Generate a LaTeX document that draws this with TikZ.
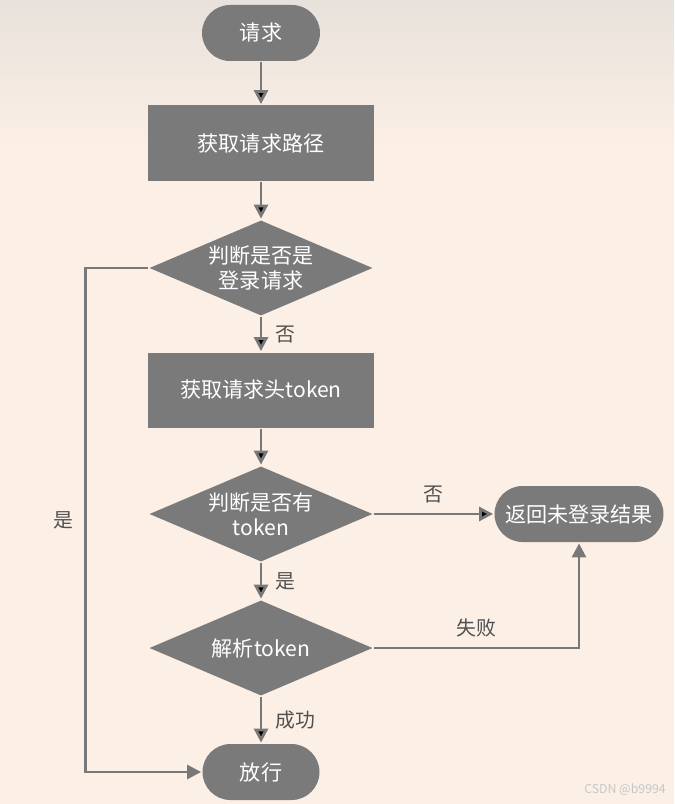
\documentclass[tikz,border=0pt]{standalone}
\usepackage{fontspec}
\setmainfont{Noto Sans CJK SC}
\usetikzlibrary{arrows.meta,positioning,shapes.geometric}
\definecolor{bgpeach}{HTML}{FCEFE5}
\definecolor{bgtop}{HTML}{E8E2DC}
\definecolor{boxgray}{HTML}{7A7A7A}
\definecolor{linegray}{HTML}{787878}
\definecolor{labelgray}{HTML}{505050}

\begin{document}
\begin{tikzpicture}[->,>={Triangle[width=8pt,length=8pt]},node distance=2.5cm,
                    line width=1.6pt, font=\fontsize{12}{15}\selectfont]
	  \tikzstyle{every node}=[text=white]
	  \tikzstyle{term}=[fill=boxgray,rounded corners=0.56cm,minimum height=1.12cm,inner sep=0pt]
	  \tikzstyle{proc}=[fill=boxgray,minimum width=4.52cm,minimum height=1.5cm,inner sep=0pt]
	  \tikzstyle{decide}=[diamond,fill=boxgray,aspect=2.33,minimum width=4.48cm,
	                      minimum height=1.92cm,inner sep=0pt,align=center,font=\fontsize{12}{14.5}\selectfont]
	  \tikzstyle{lbl}=[text=labelgray,font=\fontsize{11.3}{13}\selectfont]

	  % background
	  \useasboundingbox (0,0) rectangle (13.48,-16.08);
	  \fill[bgpeach] (0,0) rectangle (13.48,-16.08);
	  \shade[top color=bgtop,bottom color=bgpeach,draw=none] (0,0) rectangle (13.48,-3);

	  \node[term,minimum width=2.36cm] (req) at (5.22,-0.66) {请求};
	  \node[proc]   (path)  [below of=req,node distance=2.2cm]    {获取请求路径};
	  \node[decide] (login) [below of=path]                       {判断是否是\\登录请求};
	  \node[proc]   (token) [below of=login,node distance=2.44cm] {获取请求头token};
	  \node[decide] (has)   [below of=token,node distance=2.48cm] {判断是否有\\token};
	  \node[term,minimum width=3.38cm] (back) [right of=has,node distance=6.36cm] {返回未登录结果};
	  \node[decide] (parse) [below of=has,node distance=2.68cm]   {解析token};
	  \node[term,minimum width=2.34cm] (pass) [below of=parse,node distance=2.48cm] {放行};

	  \path[draw=linegray]
	  (req) edge (path)
	  (path) edge (login)
	  (login) edge node[lbl,right=4pt] {否} (token)
	  (token) edge (has)
	  (has) edge node[lbl,above=2pt] {否} (back)
	  (has) edge node[lbl,right=4pt] {是} (parse)
	  (parse) edge node[lbl,right=4pt] {成功} (pass);

	  \draw[draw=linegray] (login.west) -- ++(-1.24,0) |- node[lbl,pos=0.25,left=3pt] {是} (pass.west);
	  \draw[draw=linegray] (parse.east) -| node[lbl,pos=0.25,above=2pt] {失败} (back.south);

	  \node[text=black!22,font=\fontsize{7}{8}\selectfont] (mark) at (12.5,-15.8) {CSDN @b9994};
	\end{tikzpicture}
\end{document}
